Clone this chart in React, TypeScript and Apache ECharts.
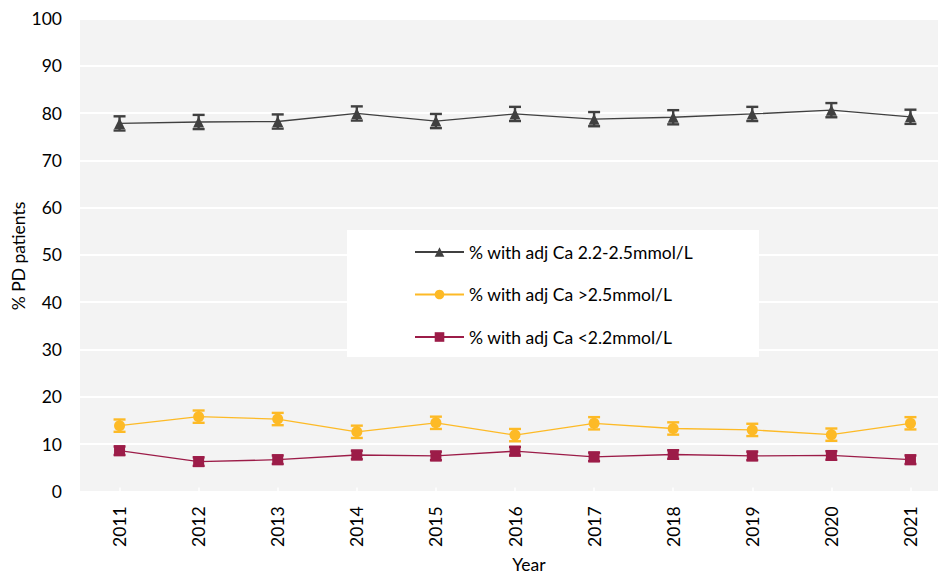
import React, { useEffect, useRef } from "react";
import * as echarts from "echarts";

const years = ["2011", "2012", "2013", "2014", "2015", "2016", "2017", "2018", "2019", "2020", "2021"];
const normalVals = [77.8, 78.1, 78.2, 79.9, 78.3, 79.8, 78.7, 79.1, 79.8, 80.6, 79.2];
const normalErr = [1.5, 1.5, 1.5, 1.5, 1.5, 1.5, 1.5, 1.5, 1.5, 1.5, 1.5];
const highVals = [13.9, 15.8, 15.3, 12.6, 14.5, 11.9, 14.4, 13.3, 13.0, 12.0, 14.4];
const highErr = [1.3, 1.3, 1.3, 1.3, 1.3, 1.3, 1.3, 1.3, 1.3, 1.3, 1.3];
const lowVals = [8.6, 6.3, 6.7, 7.7, 7.5, 8.5, 7.3, 7.8, 7.5, 7.6, 6.7];
const lowErr = [0.9, 0.9, 0.9, 0.9, 0.9, 0.9, 0.9, 0.9, 0.9, 0.9, 0.9];
const seriesNames = [
  "% with adj Ca 2.2-2.5mmol/L",
  "% with adj Ca >2.5mmol/L",
  "% with adj Ca <2.2mmol/L",
];
const yTicks = { min: 0, max: 100, interval: 10 };
const xTitle = "Year";
const yTitle = "% PD patients";

const FONT = "Lato";
const FS = 17.5;
const colors = ["#404040", "#FDBA26", "#9C1C48"];

function errorSeries(vals: number[], errs: number[], color: string) {
  return {
    type: "custom",
    z: 3,
    silent: true,
    data: vals.map((v, i) => [i, v - errs[i], v + errs[i]]),
    renderItem: (params: any, api: any) => {
      const lo = api.coord([api.value(0), api.value(1)]);
      const hi = api.coord([api.value(0), api.value(2)]);
      const w = 6;
      const style = { stroke: color, lineWidth: 2.4 };
      return {
        type: "group",
        children: [
          { type: "line", shape: { x1: lo[0], y1: lo[1], x2: hi[0], y2: hi[1] }, style },
          { type: "line", shape: { x1: lo[0] - w, y1: lo[1], x2: lo[0] + w, y2: lo[1] }, style },
          { type: "line", shape: { x1: hi[0] - w, y1: hi[1], x2: hi[0] + w, y2: hi[1] }, style },
        ],
      };
    },
  };
}

export default function App() {
  const ref = useRef<HTMLDivElement>(null);
  useEffect(() => {
    if (!ref.current) return;
    const chart = echarts.init(ref.current, null, { renderer: "svg" });
    const lineData = [normalVals, highVals, lowVals];
    const symbols = ["triangle", "circle", "rect"];
    const sizes = [11, 11, 11];
    chart.setOption({
      animation: false,
      textStyle: { fontFamily: FONT },
      grid: {
        left: 80,
        top: 18.4,
        right: -12,
        bottom: 82.6,
        outerBoundsMode: "none",
        containLabel: false,
        show: true,
        backgroundColor: "#f3f3f3",
        borderWidth: 0,
      },
      graphic: [
        {
          type: "rect",
          z: 3,
          shape: { x: 347, y: 230, width: 412, height: 127 },
          style: { fill: "#ffffff" },
        },
        {
          type: "text",
          x: 529,
          y: 564,
          style: {
            text: xTitle,
            fontFamily: FONT,
            fontSize: FS,
            fill: "#000",
            align: "center",
            verticalAlign: "middle",
          },
        },
        {
          type: "text",
          x: 18,
          y: 256,
          rotation: Math.PI / 2,
          style: {
            text: yTitle,
            fontFamily: FONT,
            fontSize: FS,
            fill: "#000",
            align: "center",
            verticalAlign: "middle",
          },
        },
      ],
      legend: {
        orient: "vertical",
        left: 414,
        top: 243,
        padding: 0,
        itemWidth: 49,
        itemHeight: 12,
        itemGap: 24.5,
        z: 5,
        textStyle: { fontFamily: FONT, fontSize: FS, lineHeight: 18, color: "#000" },
        data: seriesNames,
      },
      xAxis: {
        type: "category",
        data: years,
        boundaryGap: true,
        axisLine: { show: false },
        axisTick: { show: true, inside: true, length: 4, alignWithLabel: true, lineStyle: { color: "#ffffff", width: 1.5 } },
        axisLabel: { rotate: 90, margin: 15, fontSize: FS, color: "#000", fontFamily: FONT },
      },
      yAxis: {
        type: "value",
        min: yTicks.min,
        max: yTicks.max,
        interval: yTicks.interval,
        axisLine: { show: false },
        axisTick: { show: false },
        axisLabel: { fontSize: FS, color: "#000", margin: 18, fontFamily: FONT },
        splitLine: { lineStyle: { color: "#ffffff", width: 2 } },
      },
      series: [
        ...lineData.map((d, k) => ({
          type: "line",
          name: seriesNames[k],
          data: d,
          symbol: symbols[k],
          symbolSize: sizes[k],
          showSymbol: true,
          z: 4,
          lineStyle: { color: colors[k], width: 1.3 },
          itemStyle: { color: colors[k], borderWidth: 0 },
        })),
        errorSeries(normalVals, normalErr, colors[0]),
        errorSeries(highVals, highErr, colors[1]),
        errorSeries(lowVals, lowErr, colors[2]),
      ],
    });
    return () => chart.dispose();
  }, []);
  return (
    <div
      ref={ref}
      style={{ position: "fixed", left: 0, top: 0, width: 938, height: 574, background: "#fff" }}
    />
  );
}
